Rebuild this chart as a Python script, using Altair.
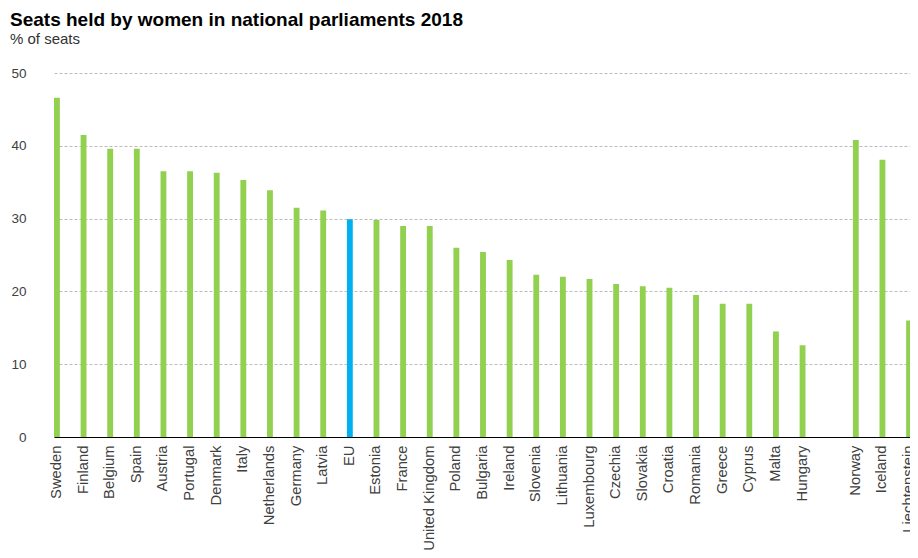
import altair as alt
import pandas as pd

# Data
countries = ["Sweden", "Finland", "Belgium", "Spain", "Austria", "Portugal", "Denmark",
             "Italy", "Netherlands", "Germany", "Latvia", "EU", "Estonia", "France",
             "United Kingdom", "Poland", "Bulgaria", "Ireland", "Slovenia", "Lithuania",
             "Luxembourg", "Czechia", "Slovakia", "Croatia", "Romania", "Greece", "Cyprus",
             "Malta", "Hungary", "Norway", "Iceland", "Liechtenstein"]
values = [46.6, 41.5, 39.6, 39.6, 36.5, 36.5, 36.3, 35.3, 33.9, 31.5, 31.1, 29.9, 29.8,
          29.0, 29.0, 26.0, 25.4, 24.3, 22.3, 22.0, 21.7, 21.0, 20.7, 20.5, 19.5, 18.3,
          18.3, 14.5, 12.6, 40.8, 38.1, 16.0]
n_eu = 29  # countries before the gap (EU members + EU aggregate)
gap = " "
y_ticks = [0, 10, 20, 30, 40, 50]
highlight = "EU"

order = countries[:n_eu] + [gap] + countries[n_eu:]
df = pd.DataFrame({"country": countries, "value": values})

FONT = "Liberation Sans"

chart = (
    alt.Chart(df)
    .mark_bar(clip=True)
    .encode(
        x=alt.X(
            "country:N",
            sort=order,
            scale=alt.Scale(domain=order, range=[15, 873], paddingInner=0.78, paddingOuter=0),
            axis=alt.Axis(
                title=None, labelAngle=-90, labelFontSize=14.8, labelColor="#404040",
                labelFont=FONT, ticks=False, domainColor="#000000", domainWidth=1,
                labelPadding=8, grid=False, labelOverlap=False,
            ),
        ),
        y=alt.Y(
            "value:Q",
            scale=alt.Scale(domain=[0, 50], nice=False),
            axis=alt.Axis(
                title=None, values=y_ticks, grid=True, gridDash=[3, 2], gridColor="#bdbdbd",
                domain=False, ticks=False, labelPadding=13, labelFontSize=13.5,
                labelColor="#404040", labelFont=FONT,
            ),
        ),
        color=alt.condition(
            alt.datum.country == highlight, alt.value("#00b0f0"), alt.value("#92d050")
        ),
    )
    .properties(
        width=871,
        height=364,
        autosize=alt.AutoSizeParams(type="none"),
        padding={"left": 31, "top": 65, "right": 0, "bottom": 113},
        title=alt.Title(
            "Seats held by women in national parliaments 2018",
            subtitle="% of seats",
            anchor="start",
            frame="group",
            dx=-29,
            offset=19,
            font=FONT,
            fontSize=19,
            fontWeight="bold",
            color="#000000",
            subtitleFont=FONT,
            subtitleFontSize=15,
            subtitleColor="#333333",
            subtitlePadding=2,
        ),
    )
    .configure_view(stroke=None)
)

chart.save("out.html", embed_options={"renderer": "svg", "actions": False})
